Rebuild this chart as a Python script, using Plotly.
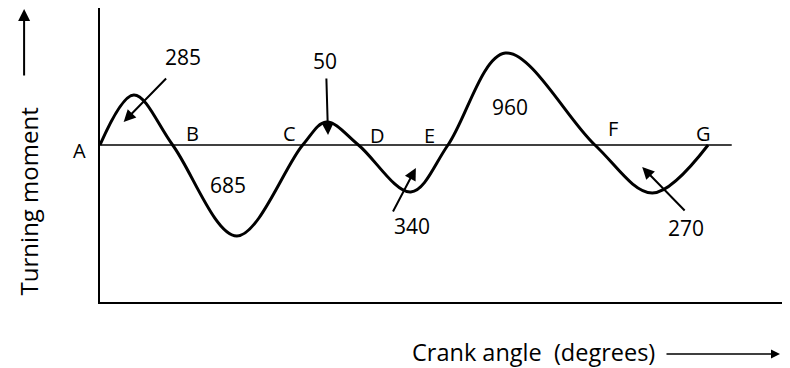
import plotly.graph_objects as go

# crank angle (deg) and turning moment about the mean line (arbitrary units)
crank_angle = [0, 20, 43, 81, 120, 134, 153, 184, 206, 240, 293, 327, 360]
turning_moment = [0, 50, 0, -91, 0, 23, 0, -47, 0, 92, 0, -48, 0]

point_names = ["A", "B", "C", "D", "E", "F", "G"]
area_values = ["285", "685", "50", "340", "960", "270"]

FONT = "Open Sans"
INK = "black"

fig = go.Figure()
fig.add_trace(go.Scatter(
    x=crank_angle, y=turning_moment,
    mode="lines",
    line=dict(color=INK, width=3, shape="spline", smoothing=1.0),
    hoverinfo="skip",
))

# mean torque line
fig.add_shape(type="line", x0=0, x1=374, y0=0, y1=0,
              line=dict(color=INK, width=1.5), layer="below")

# letters along the mean line ("A" sits left of the axis, so it goes in paper coords)
name_pos = [None, (55, 12), (112, 12), (164, 10), (195, 10), (304, 17), (357, 12)]
for name, pos in zip(point_names, name_pos):
    if pos is None:
        fig.add_annotation(xref="paper", yref="paper", x=-0.029, y=0.517, text=name,
                           xanchor="center", yanchor="middle", showarrow=False,
                           font=dict(family=FONT, size=20, color=INK))
    else:
        fig.add_annotation(x=pos[0], y=pos[1], text=name, showarrow=False,
                           font=dict(family=FONT, size=20, color=INK))

# area labels
area_pos = [(49, 88), (76, -40), (133, 84), (185, -81), (243, 38), (347, -83)]
for txt, (x, y) in zip(area_values, area_pos):
    fig.add_annotation(x=x, y=y, text=txt, showarrow=False,
                       font=dict(family=FONT, size=21, color=INK))

# pointer arrows (tail -> head)
arrows = [((40, 68), (14, 23)), ((134, 68), (135, 10)),
          ((173, -68), (187, -23)), ((347, -67), (321, -22))]
for (tx, ty), (hx, hy) in arrows:
    fig.add_annotation(x=hx, y=hy, ax=tx, ay=ty, axref="x", ayref="y",
                       text="", showarrow=True, arrowhead=2, arrowsize=1.2,
                       arrowwidth=2, arrowcolor=INK)

# axis titles with arrows
fig.add_annotation(xref="paper", yref="paper", x=-0.104, y=0.343, text="Turning moment",
                   textangle=-90, showarrow=False, xanchor="center", yanchor="middle",
                   font=dict(family=FONT, size=24, color=INK))
fig.add_annotation(xref="paper", yref="paper", x=-0.110, y=1.0, ax=0, ay=69,
                   text="", showarrow=True, arrowhead=2, arrowsize=1.2,
                   arrowwidth=2, arrowcolor=INK)
fig.add_annotation(xref="paper", yref="paper", x=0.449, y=-0.170, text="Crank angle  (degrees)",
                   showarrow=False, xanchor="left", yanchor="middle",
                   font=dict(family=FONT, size=23.5, color=INK))
fig.add_annotation(xref="paper", yref="paper", x=0.9855, y=-0.177, ax=-115, ay=0,
                   text="", showarrow=True, arrowhead=2, arrowsize=1.2,
                   arrowwidth=1.5, arrowcolor=INK)

fig.update_xaxes(range=[0, 408.5], showline=True, linewidth=2, linecolor=INK,
                 showgrid=False, zeroline=False, showticklabels=False, ticks="")
fig.update_yaxes(range=[-157, 137], showline=True, linewidth=2, linecolor=INK,
                 showgrid=False, zeroline=False, showticklabels=False, ticks="")
# page body keeps an 8px margin, so the plot area is shifted by that much
fig.update_layout(
    width=790, height=368,
    paper_bgcolor="white", plot_bgcolor="white",
    margin=dict(l=92, r=8, t=0, b=74, autoexpand=False),
    showlegend=False,
)
fig.write_html("out.html")
